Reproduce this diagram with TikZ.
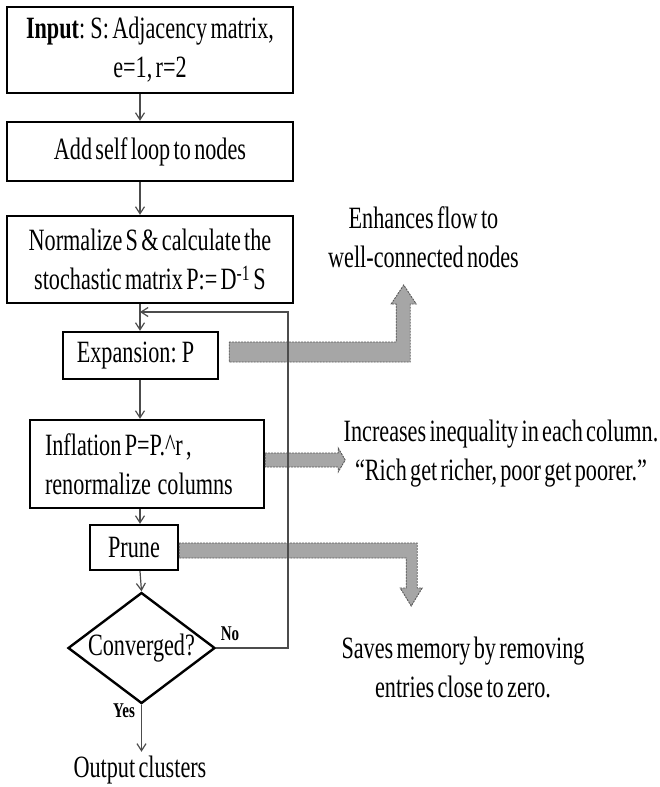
\documentclass[tikz,border=0pt]{standalone}
\usepackage{fontspec}
\setmainfont{Liberation Serif}[FakeStretch=0.716,WordSpace=0.6]
\usetikzlibrary{arrows.meta,shapes.geometric,calc}

\tikzset{
  stepbox/.style={draw=black,line width=2.4pt,fill=white,inner sep=0pt,align=center},
  flow/.style={draw=black!70,line width=1.2pt,-{Straight Barb[length=7pt,width=9pt]}},
  blockarrow/.style={fill=black!35,draw=black!65,line width=0.9pt,dash pattern=on 2pt off 1pt},
  note/.style={inner sep=0pt,align=center},
  answer/.style={inner sep=0pt,font=\bfseries\fontsize{21}{25}\selectfont},
}

\begin{document}
\begin{tikzpicture}[x=1pt,y=-1pt,font=\fontsize{31}{39}\selectfont]
  \useasboundingbox (0,0) rectangle (659,787);
  \coordinate (spine) at (140,0);
  \coordinate (back) at (288,312);

  % main flow
  \node[stepbox,minimum width=286,minimum height=86] (input) at (150,50)
    {\textbf{Input}: S: Adjacency matrix,\\e=1, r=2};
  \node[stepbox,minimum width=286,minimum height=59] (selfloop) at (150,151.5)
    {Add self loop to nodes};
  \node[stepbox,minimum width=286,minimum height=87] (norm) at (150,259.5)
    {Normalize S \& calculate the\\stochastic matrix P:= D\textsuperscript{-1} S};
  \node[stepbox,minimum width=155,minimum height=47] (expand) at (140.5,355.5)
    {Expansion: P\hspace{10pt}};
  \node[stepbox,align=left,text width=204,inner xsep=15pt,minimum height=88] (inflate) at (147,464)
    {\spaceskip=0pt\relax Inflation P=P.\textasciicircum r ,\\renormalize\ \ columns};
  \node[stepbox,minimum width=88,minimum height=45] (prune) at (134,547.5) {Prune};
  \node[draw,line width=2.4pt,diamond,aspect=1.32,inner sep=0pt,
        minimum width=147,minimum height=111] (conv) at (141.5,648) {Converged?};
  \node[inner sep=4pt] (out) at (140,770) {Output clusters};

  % side notes
  \node[note] (enh) at (423.5,237) {Enhances flow to\\well-connected nodes};
  \node[note] (ineq) at (501,454) {Increases inequality in each column.\\“Rich get richer, poor get poorer.”};
  \node[note] (saves) at (463,667) {Saves memory by removing\\entries close to zero.};

  % grey block arrows
  \filldraw[blockarrow] ($(expand.east)+(10,-13.5)$) -- ++(167,0) -- ++(0,-38) -- ++(-5,0)
    -- ++(12.5,-19) -- ++(12.5,19) -- ++(-6,0) -- ++(0,58) -- ++(-181,0) -- cycle;
  \filldraw[blockarrow] ($(inflate.east)+(0,-11)$) -- ++(73,0) -- ++(0,-5) -- ++(7,12)
    -- ++(-7,12) -- ++(0,-5) -- ++(-73,0) -- cycle;
  \filldraw[blockarrow] ($(prune.east)+(0,-4.5)$) -- ++(238,0) -- ++(0,45) -- ++(5,0)
    -- ++(-11,18) -- ++(-11,-18) -- ++(6,0) -- ++(0,-30) -- ++(-227,0) -- cycle;

  % connectors
  \draw[flow] (input.south -| spine) -- (selfloop.north -| spine);
  \draw[flow] (selfloop.south -| spine) -- (norm.north -| spine);
  \draw[flow] (norm.south -| spine) -- (expand.north -| spine);
  \draw[flow] (expand.south -| spine) -- (inflate.north -| spine);
  \draw[flow] (inflate.south -| spine) -- (prune.north -| spine);
  \draw[flow] (prune.south -| spine) -- (conv.north);
  \draw[flow] (conv.south) -- (conv.south |- out.north);
  \draw[flow] (conv.east) -| (back) -- (back -| spine);
  \node[answer] (no) at (230,634) {No};
  \node[answer] (yes) at (124,711) {Yes};
\end{tikzpicture}
\end{document}
